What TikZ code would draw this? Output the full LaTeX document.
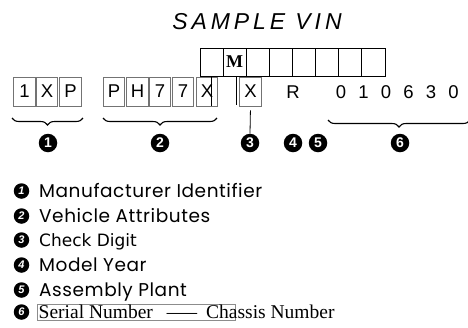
\documentclass[tikz,border=0pt]{standalone}
\usepackage{fontspec}
\usepackage{graphicx}
\setmainfont{Liberation Sans}
\newfontfamily\serifv{Liberation Serif}
\newfontfamily\geo[LetterSpace=3]{Poppins}
\newfontfamily\dejav{DejaVu Sans}
\newfontfamily\titlef[LetterSpace=17]{Liberation Sans}
\usetikzlibrary{decorations.pathreplacing}
\begin{document}
\begin{tikzpicture}[x=1pt,y=-1pt,
  vinbox/.style={draw=black!55, line width=0.8pt, minimum width=21.5pt, minimum height=29pt, inner sep=0pt, font=\fontsize{18.5}{18.5}\selectfont},
  topcell/.style={draw=black, line width=0.8pt, minimum width=23.1pt, minimum height=28pt, inner sep=0pt},
  plainch/.style={inner sep=0pt, font=\fontsize{18.5}{18.5}\selectfont},
  badge/.style={circle, fill=black, text=white, minimum size=18.5pt, inner sep=0pt, font=\bfseries\fontsize{14}{14}\selectfont},
  lbadge/.style={circle, fill=black, text=white, minimum size=15.5pt, inner sep=0pt, font=\bfseries\itshape\fontsize{11}{11}\selectfont},
  legend/.style={anchor=base west, inner sep=0pt, font=\geo\fontsize{18.5}{18.5}\selectfont},
  bracedeco/.style={decorate, decoration={brace, mirror, amplitude=7pt}, line width=1.1pt},
  thinline/.style={line width=0.8pt}]
\useasboundingbox (0,0) rectangle (468,327);

% title
\node[inner sep=0pt, font=\titlef\itshape\fontsize{23}{23}\selectfont] (title) at (257,22) {SAMPLE VIN};

% top row of cells
\foreach \i in {1,...,8} {
  \node[topcell] (c\i) at ({200+23.125*(\i-0.5)},62) {};
}
\node[inner sep=0pt, font=\serifv\bfseries\fontsize{18}{18}\selectfont] (m) at (c2) {M};

% group 1
\node[vinbox] (a1) at (24.5,91.5) {1};
\node[vinbox] (a2) at (47,91.5) {X};
\node[vinbox] (a3) at (70.5,91.5) {P};
% group 2
\node[vinbox] (g1) at (114,91.5) {P};
\node[vinbox] (g2) at (137.5,91.5) {H};
\node[vinbox] (g3) at (160,91.5) {7};
\node[vinbox] (g4) at (183,91.5) {7};
\node[vinbox] (g5) at (207,91.5) {X};
% check digit
\node[vinbox] (chk) at (250.5,91.5) {X};
% remaining characters
\node[plainch] (r) at (293,92) {R};
\node[plainch] (d1) at (341,92) {0};
\node[plainch] (d2) at (363.5,92) {1};
\node[plainch] (d3) at (386,92) {0};
\node[plainch] (d4) at (408.5,92) {6};
\node[plainch] (d5) at (431,92) {3};
\node[plainch] (d6) at (453.5,92) {0};

% stray vertical lines
\coordinate (v1t) at (211,76); \coordinate (v1b) at (211,106);
\coordinate (v2t) at (236,77); \coordinate (v2b) at (236,105);
\draw[thinline] (v1t) -- (v1b);
\draw[thinline] (v2t) -- (v2b);

% braces
\coordinate (b1a) at (12,118); \coordinate (b1b) at (83,118);
\coordinate (b2a) at (103,118); \coordinate (b2b) at (217,118);
\coordinate (b6a) at (328,120); \coordinate (b6b) at (470,120);
\draw[bracedeco] (b1a) -- (b1b);
\draw[bracedeco] (b2a) -- (b2b);
\draw[bracedeco] (b6a) -- (b6b);

% number badges
\node[badge] (n1) at (48,143) {1};
\node[badge] (n2) at (160,143) {2};
\node[badge] (n3) at (250,143) {3};
\node[badge] (n4) at (293,143) {4};
\node[badge] (n5) at (318,143) {5};
\node[badge] (n6) at (400,143) {6};
\draw[thinline, shorten <=4pt] (chk.south) -- (n3.north);

% legend
\node[lbadge] (l1) at (21.5,191) {1};
\node[lbadge] (l2) at (21.5,216) {2};
\node[lbadge] (l3) at (21.5,240) {3};
\node[lbadge] (l4) at (21.5,265) {4};
\node[lbadge] (l5) at (21.5,290) {5};
\node[lbadge] (l6) at (21.5,312) {6};
\node[legend] (t1) at (39,197.5) {Manufacturer Identifier};
\node[legend] (t2) at (39,222) {Vehicle Attributes};
\node[legend, font=\dejav\fontsize{17}{17}\selectfont] (t3) at (39,246) {Check Digit};
\node[legend] (t4) at (39,271) {Model Year};
\node[legend] (t5) at (39,296) {Assembly Plant};
\draw[black!45, line width=0.6pt] (37.5,304.5) rectangle (235,320);
\node[legend, font=\serifv\fontsize{19.5}{19.5}\selectfont] (t6) at (38.5,318) {Serial Number\hspace{14pt}\scalebox{1.55}[1]{—}\hspace{9pt}Chassis Number};
\end{tikzpicture}
\end{document}
